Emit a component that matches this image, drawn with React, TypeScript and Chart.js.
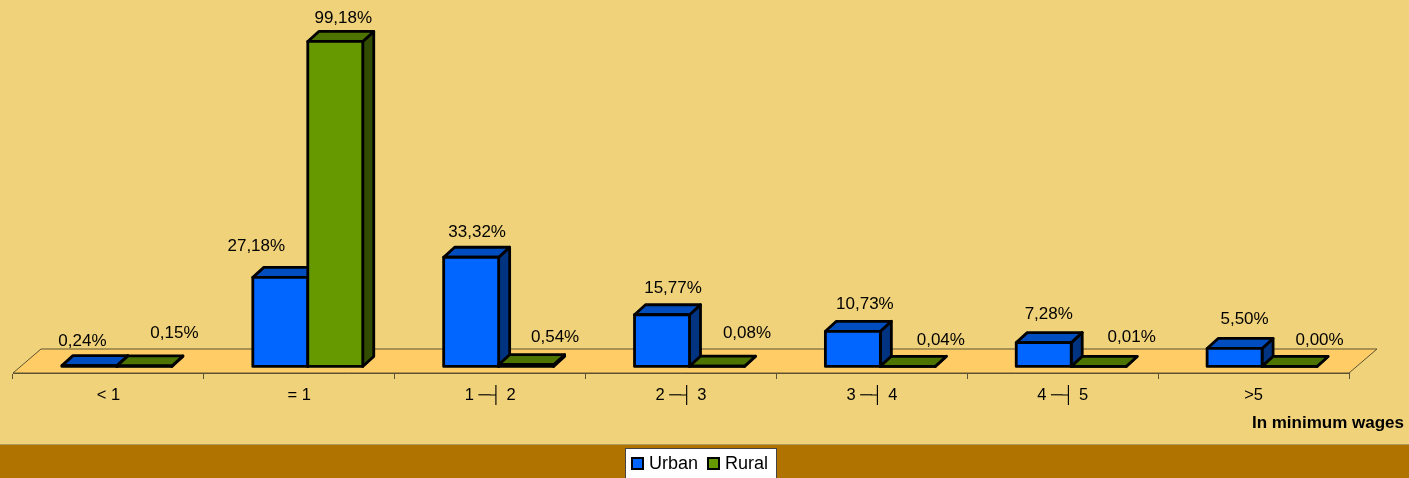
import React, { useEffect, useRef } from "react";
import { Chart, registerables } from "chart.js";

Chart.register(...registerables);

const categories = ["< 1", "= 1", "1 ─┤ 2", "2 ─┤ 3", "3 ─┤ 4", "4 ─┤ 5", ">5"];
const urban = [0.24, 27.18, 33.32, 15.77, 10.73, 7.28, 5.5];
const rural = [0.15, 99.18, 0.54, 0.08, 0.04, 0.01, 0.0];

// Label nudges relative to each bar's top centre [dx, dy]
const urbanLabelNudge = [[-7, -24], [-24, -31], [6, -25], [11, -26], [12, -27], [5, -28], [10, -29]];
const ruralLabelNudge = [[30, -33], [8, -23], [29, -27], [30, -33], [33, -26], [33, -29], [30, -26]];

const BG = "#F0D27A";
const FLOOR = "#FFCC66";
const BAND = "#B07300";
const AXIS = "#5A5433";
const FONT = "'Liberation Sans', Arial, sans-serif";
const DX = 11;
const DY = -10;
const SHIFT_X = 8.5;
const FLOOR_DX = 28;
const FLOOR_DY = -24;
const EDGE = 2.8;
const SWATCH_X = [632, 708];

const faces = [
  { top: "#004DBF", side: "#003380" },
  { top: "#4D7300", side: "#334D00" },
];

const fmt = (v: number) => v.toFixed(2).replace(".", ",") + "%";

const scene = {
  id: "scene",
  beforeDraw(chart: any) {
    const { ctx, width, height, chartArea: a } = chart;
    ctx.save();
    ctx.fillStyle = BG;
    ctx.fillRect(0, 0, width, height);
    ctx.fillStyle = BAND;
    ctx.fillRect(0, 445, width, height - 445);
    ctx.fillStyle = "#B09A5A";
    ctx.fillRect(0, 444, width, 1);
    // floor
    ctx.beginPath();
    ctx.moveTo(a.left, a.bottom);
    ctx.lineTo(a.left + FLOOR_DX, a.bottom + FLOOR_DY);
    ctx.lineTo(a.right + FLOOR_DX, a.bottom + FLOOR_DY);
    ctx.lineTo(a.right, a.bottom);
    ctx.closePath();
    ctx.fillStyle = FLOOR;
    ctx.fill();
    ctx.strokeStyle = AXIS;
    ctx.lineWidth = 1;
    ctx.stroke();
    // legend panel
    ctx.fillStyle = "#FFFFFF";
    ctx.strokeStyle = "#444444";
    ctx.fillRect(626, 449, 150, 29);
    ctx.strokeRect(625.5, 448.5, 151, 34);
    ctx.restore();
  },
  afterLayout(chart: any) {
    const l = chart.legend;
    l.left = 601;
    l.right = 800;
    l.width = 199;
    l.top = 444;
    l.bottom = 478;
    l.height = 34;
  },
  beforeDatasetsDraw(chart: any) {
    const { ctx } = chart;
    ctx.save();
    ctx.translate(SHIFT_X, 0);
    chart.data.datasets.forEach((_: any, d: number) => {
      const meta = chart.getDatasetMeta(d);
      meta.data.forEach((bar: any) => {
        const { x, y, base, width } = bar.getProps(["x", "y", "base", "width"], true);
        const l = x - width / 2;
        const r = x + width / 2;
        ctx.lineWidth = EDGE;
        ctx.lineJoin = "round";
        ctx.strokeStyle = "#000000";
        ctx.fillStyle = faces[d].side;
        ctx.beginPath();
        ctx.moveTo(r, y);
        ctx.lineTo(r + DX, y + DY);
        ctx.lineTo(r + DX, base + DY);
        ctx.lineTo(r, base);
        ctx.closePath();
        ctx.fill();
        ctx.stroke();
        ctx.fillStyle = faces[d].top;
        ctx.beginPath();
        ctx.moveTo(l, y);
        ctx.lineTo(l + DX, y + DY);
        ctx.lineTo(r + DX, y + DY);
        ctx.lineTo(r, y);
        ctx.closePath();
        ctx.fill();
        ctx.stroke();
        bar.draw(ctx);
        ctx.strokeRect(l, y, width, base - y);
      });
    });
    ctx.restore();
    return false;
  },
  afterDraw(chart: any) {
    const { ctx } = chart;
    ctx.save();
    ctx.fillStyle = "#000000";
    ctx.textAlign = "center";
    ctx.textBaseline = "middle";
    ctx.font = `17px ${FONT}`;
    const nudges = [urbanLabelNudge, ruralLabelNudge];
    chart.data.datasets.forEach((ds: any, d: number) => {
      chart.getDatasetMeta(d).data.forEach((bar: any, i: number) => {
        const [nx, ny] = nudges[d][i];
        ctx.fillText(fmt(ds.data[i]), bar.x + SHIFT_X + nx, bar.y + ny);
      });
    });
    ctx.textAlign = "right";
    ctx.font = `bold 17px ${FONT}`;
    ctx.fillText("In minimum wages", 1404, 423);
    // legend swatches, sized beyond what the native box spacing allows
    chart.data.datasets.forEach((ds: any, d: number) => {
      ctx.fillStyle = ds.backgroundColor;
      ctx.strokeStyle = "#000000";
      ctx.lineWidth = 2;
      ctx.fillRect(SWATCH_X[d], 458, 11, 11);
      ctx.strokeRect(SWATCH_X[d], 458, 11, 11);
    });
    ctx.restore();
  },
};

export default function App() {
  const ref = useRef<HTMLCanvasElement>(null);
  useEffect(() => {
    document.body.style.margin = "0";
    const chart = new Chart(ref.current!, {
      type: "bar",
      data: {
        labels: categories,
        datasets: [
          { label: "Urban", data: urban, backgroundColor: "#0066FF", borderWidth: 0, categoryPercentage: 0.576, barPercentage: 1 },
          { label: "Rural", data: rural, backgroundColor: "#669900", borderWidth: 0, categoryPercentage: 0.576, barPercentage: 1 },
        ],
      },
      options: {
        responsive: false,
        animation: false,
        layout: { padding: { left: 13, right: 60, top: 6, bottom: 0 } },
        scales: {
          x: {
            afterFit: (s: any) => { s.height = 105 - (s.chart.legend ? s.chart.legend.height : 0); },
            grid: { drawOnChartArea: false, tickLength: 6, color: AXIS, offset: true },
            border: { color: AXIS, width: 1 },
            ticks: { color: "#000000", font: { family: FONT, size: 16.5 }, padding: 6.5, maxRotation: 0, autoSkip: false },
          },
          y: { display: false, min: -2, max: 110 },
        },
        plugins: {
          tooltip: { enabled: false },
          title: { display: false },
          legend: {
            display: true,
            position: "bottom",
            labels: {
              boxWidth: 7,
              boxHeight: 7,
              padding: 11,
              color: "#000000",
              font: { family: FONT, size: 18 },
            },
          },
        },
      },
      plugins: [scene],
    } as any);
    return () => chart.destroy();
  }, []);
  return <canvas ref={ref} width={1409} height={478} style={{ display: "block" }} />;
}
